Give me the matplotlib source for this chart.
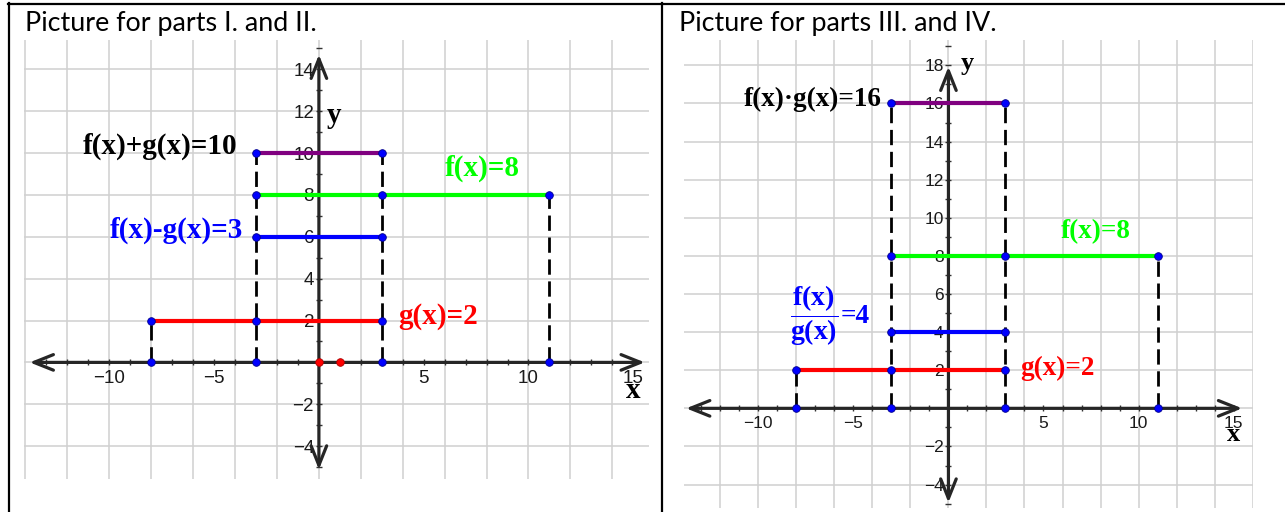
import numpy as np
import matplotlib
matplotlib.use("Agg")
import matplotlib.pyplot as plt
from matplotlib.lines import Line2D
from matplotlib.ticker import FixedLocator

# ---------------- data ----------------
# Panel I / II
p1_labels = ["f(x)+g(x)=10", "f(x)=8", "f(x)-g(x)=3", "g(x)=2"]
p1_y = [10, 8, 6, 2]
p1_x0 = [-3, -3, -3, -8]
p1_x1 = [3, 11, 3, 3]
p1_dash_x = [-8, -3, 3, 11]
p1_dash_top = [2, 10, 10, 8]
p1_red_x = [0, 1]
p1_yticks = [-4, -2, 2, 4, 6, 8, 10, 12, 14]

# Panel III / IV
p2_labels = ["f(x)\u00b7g(x)=16", "f(x)=8", "f(x)/g(x)=4", "g(x)=2"]
p2_y = [16, 8, 4, 2]
p2_x0 = [-3, -3, -3, -8]
p2_x1 = [3, 11, 3, 3]
p2_dash_x = [-8, -3, 3, 11]
p2_dash_top = [2, 16, 16, 8]
p2_yticks = [-4, -2, 2, 4, 6, 8, 10, 12, 14, 16, 18]

xticks = [-10, -5, 5, 10, 15]

seg_colors = ["#800080", "#00ff00", "#0000ff", "#ff0000"]
label_colors = ["#000000", "#00ff00", "#0000ff", "#ff0000"]

plt.rcParams["mathtext.fontset"] = "custom"
plt.rcParams["mathtext.rm"] = "Liberation Serif:bold"
plt.rcParams["mathtext.bf"] = "Liberation Serif:bold"
plt.rcParams["mathtext.it"] = "Liberation Serif:bold"

W, H = 1285, 512
fig = plt.figure(figsize=(W / 100, H / 100), dpi=100)
SERIF = "Liberation Serif"


def px_axes(l, t, r, b):
    return fig.add_axes([l / W, 1 - b / H, (r - l) / W, (b - t) / H])


def setup(ax, xlim, ylim, yticks, arrow_x, arrow_y, tick_fs, ymax_minor):
    ax.set_xlim(*xlim)
    ax.set_ylim(*ylim)
    for s in ["top", "right"]:
        ax.spines[s].set_visible(False)
    ax.spines["left"].set_position(("data", 0))
    ax.spines["bottom"].set_position(("data", 0))
    ax.spines["left"].set_color("none")
    ax.spines["bottom"].set_color("none")
    ax.patch.set_alpha(0)
    ax.xaxis.set_major_locator(FixedLocator(xticks))
    ax.xaxis.set_minor_locator(FixedLocator(np.arange(-13, 16, 1)))
    ax.yaxis.set_major_locator(FixedLocator(yticks))
    ax.yaxis.set_minor_locator(FixedLocator(np.arange(-5, ymax_minor + 1, 1)))
    ax.tick_params(which="both", direction="inout", length=5, width=1.0,
                   color="#333333")
    ax.tick_params(axis="x", which="major", labelsize=tick_fs, pad=3,
                   labelcolor="#1a1a1a")
    ax.tick_params(axis="y", which="major", labelsize=tick_fs, pad=1,
                   labelcolor="#1a1a1a")
    for lab in ax.get_xticklabels() + ax.get_yticklabels():
        lab.set_fontfamily("Liberation Sans")
    # grid every 2 units
    for gx in np.arange(-14, 17, 2):
        if xlim[0] - 0.01 <= gx <= xlim[1]:
            ax.axvline(gx, color="#d0d0d0", lw=1.1, zorder=0)
    for gy in np.arange(-4, 20, 2):
        if ylim[0] <= gy <= ylim[1]:
            ax.axhline(gy, color="#d0d0d0", lw=1.1, zorder=0)
    ap = dict(arrowstyle="<->,head_length=0.7,head_width=0.28",
              color="#262626", lw=2.3, mutation_scale=20, shrinkA=0, shrinkB=0)
    ax.annotate("", xy=(arrow_x[1], 0), xytext=(arrow_x[0], 0),
                arrowprops=ap, zorder=2)
    ax.annotate("", xy=(0, arrow_y[1]), xytext=(0, arrow_y[0]),
                arrowprops=ap, zorder=2)


def draw_data(ax, ys, x0s, x1s, dxs, dtops):
    for xd, top in zip(dxs, dtops):
        ax.plot([xd, xd], [0, top], color="black", lw=2.0,
                linestyle=(0, (5.5, 2.4)), zorder=3)
    for y, a, b, c in zip(ys, x0s, x1s, seg_colors):
        ax.plot([a, b], [y, y], color=c, lw=3.0, solid_capstyle="butt", zorder=4)
    pts = []
    for y, a, b in zip(ys, x0s, x1s):
        for xd in dxs:
            if a <= xd <= b:
                pts.append((xd, y))
    for xd in dxs:
        pts.append((xd, 0))
    px = [p[0] for p in pts]
    py = [p[1] for p in pts]
    ax.plot(px, py, "o", color="#0000ff", ms=5.5, mec="#00008b", mew=0.6,
            zorder=5)


# ---------------- panel 1 ----------------
ax1 = px_axes(24, 40, 649, 479)
setup(ax1, (-14.07, 15.75), (-5.57, 15.4), p1_yticks, (-13.8, 15.55),
      (-5.12, 14.7), 13.5, 15)
draw_data(ax1, p1_y, p1_x0, p1_x1, p1_dash_x, p1_dash_top)
ax1.plot(p1_red_x, [0] * len(p1_red_x), "o", color="#ff0000", ms=5.5,
         mec="#aa0000", mew=0.6, zorder=5)
fs1 = 21
ax1.text(-3.9, 10.3, p1_labels[0], color=label_colors[0], fontsize=fs1,
         fontfamily=SERIF, fontweight="bold", ha="right", va="center", zorder=6)
ax1.text(7.78, 9.29, p1_labels[1], color=label_colors[1], fontsize=fs1,
         fontfamily=SERIF, fontweight="bold", ha="center", va="center", zorder=6)
ax1.text(-3.6, 6.33, p1_labels[2], color=label_colors[2], fontsize=fs1,
         fontfamily=SERIF, fontweight="bold", ha="right", va="center", zorder=6)
ax1.text(3.8, 2.2, p1_labels[3], color=label_colors[3], fontsize=fs1,
         fontfamily=SERIF, fontweight="bold", ha="left", va="center", zorder=6)
ax1.text(0.7, 11.8, "y", fontsize=21, fontfamily=SERIF, fontweight="bold",
         ha="center", va="center", zorder=6)
ax1.text(15.0, -1.35, "x", fontsize=21, fontfamily=SERIF, fontweight="bold",
         ha="center", va="center", zorder=6)

# ---------------- panel 2 ----------------
ax2 = px_axes(684, 40, 1253, 508)
setup(ax2, (-13.91, 16.02), (-5.23, 19.33), p2_yticks, (-13.8, 15.45),
      (-4.95, 17.93), 12.5, 19)
draw_data(ax2, p2_y, p2_x0, p2_x1, p2_dash_x, p2_dash_top)
fs2 = 19.5
ax2.text(-3.5, 16.2, p2_labels[0], color=label_colors[0], fontsize=fs2,
         fontfamily=SERIF, fontweight="bold", ha="right", va="center", zorder=6)
ax2.text(7.75, 9.27, p2_labels[1], color=label_colors[1], fontsize=fs2,
         fontfamily=SERIF, fontweight="bold", ha="center", va="center", zorder=6)
num, den = p2_labels[2].split("=")[0].split("/")
rhs = "=" + p2_labels[2].split("=")[1]
ax2.text(-7.04, 4.85, r"$\dfrac{\mathbf{%s}}{\mathbf{%s}}$" % (num, den),
         color=label_colors[2], fontsize=fs2 + 0.5, ha="center", va="center",
         zorder=6)
ax2.text(-5.65, 4.81, rhs, color=label_colors[2], fontsize=fs2,
         fontfamily=SERIF, fontweight="bold", ha="left", va="center", zorder=6)
ax2.text(3.8, 2.1, p2_labels[3], color=label_colors[3], fontsize=fs2,
         fontfamily=SERIF, fontweight="bold", ha="left", va="center", zorder=6)
ax2.text(0.97, 18.1, "y", fontsize=19, fontfamily=SERIF, fontweight="bold",
         ha="center", va="center", zorder=6)
ax2.text(15.0, -1.35, "x", fontsize=19, fontfamily=SERIF, fontweight="bold",
         ha="center", va="center", zorder=6)

# ---------------- titles & table borders ----------------
fig.text(25 / W, 1 - 31.5 / H, "Picture for parts I. and II.", fontsize=19.4,
         fontfamily="Lato", va="baseline", ha="left", color="#000000")
fig.text(679 / W, 1 - 31.5 / H, "Picture for parts III. and IV.", fontsize=19.4,
         fontfamily="Lato", va="baseline", ha="left", color="#000000")


def fig_line(x0, y0, x1, y1):
    fig.add_artist(Line2D([x0 / W, x1 / W], [1 - y0 / H, 1 - y1 / H],
                          color="black", lw=1.6, transform=fig.transFigure))


fig_line(8, 3.5, 1285, 3.5)
fig_line(9, 3, 9, 512)
fig_line(662, 3, 662, 512)

fig.savefig("out.png", dpi=100)
